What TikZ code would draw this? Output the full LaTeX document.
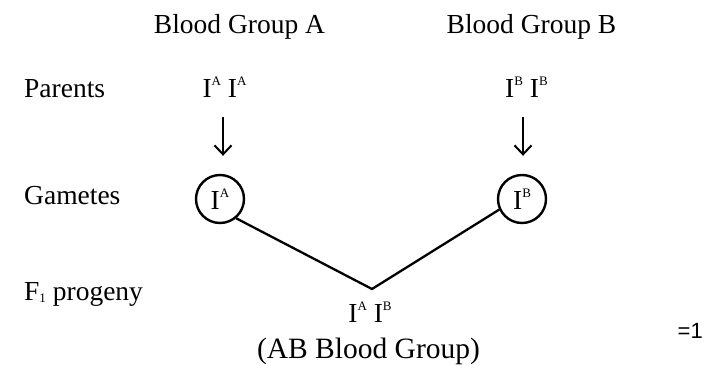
\documentclass[tikz,border=0pt]{standalone}
\usepackage{fontspec}
\setmainfont{Liberation Serif}
\setsansfont{Liberation Sans}
\usetikzlibrary{arrows.meta}
\newcommand{\gene}[1]{I\raisebox{11.5pt}{\fontsize{13}{13}\selectfont #1}}
\tikzset{
  lbl/.style={inner sep=0pt, font=\fontsize{27.5}{32}\selectfont},
  gam/.style={circle, draw, line width=2.4pt, minimum size=48pt, inner sep=0pt, font=\fontsize{27.5}{32}\selectfont},
  arr/.style={line width=2pt, -{Straight Barb[length=9pt,width=17pt,line width=2pt]}},
  link/.style={line width=2.3pt}
}
\begin{document}
\begin{tikzpicture}[x=1pt, y=-1pt]
	    \useasboundingbox (0, 0) rectangle (708, 364);
	    \node [lbl, anchor=base] (grpA) at (239.5, 33) {Blood Group A};
	    \node [lbl, anchor=base] (grpB) at (531.5, 33) {Blood Group B};
	    \node [lbl, anchor=base west] (par) at (24, 97) {Parents};
	    \node [lbl, anchor=base] (pA) at (224.5, 97) {\gene{A} \gene{A}};
	    \node [lbl, anchor=base] (pB) at (526.5, 97) {\gene{B} \gene{B}};
	    \node [lbl, anchor=base west] (gam) at (24, 204) {Gametes};
	    \node [gam] (ga) at (220, 199) {\gene{A}};
	    \node [gam] (gb) at (522, 199) {\gene{B}};
	    \node [lbl, anchor=base west] (fone) at (24, 300) {F\raisebox{-2pt}{\fontsize{13}{13}\selectfont 1} progeny};
	    \coordinate (meet) at (372, 289);
	    \node [lbl, anchor=base] (kid) at (370, 322) {\gene{A} \gene{B}};
	    \node [lbl, anchor=base, font=\fontsize{29.5}{34}\selectfont] (grpAB) at (368.5, 358) {(AB Blood Group)};
	    \node [inner sep=0pt, anchor=base east, font=\sffamily\fontsize{22}{24}\selectfont] (one) at (703, 338) {=1};
	    \draw [arr, shorten <=20pt, shorten >=18pt] (pA.south -| 223, 0) -- (ga.north -| 223, 0);
	    \draw [arr, shorten <=20pt, shorten >=18pt] (pB.south -| 523, 0) -- (gb.north -| 523, 0);
	    \draw [link] (ga.-50) -- (meet) -- (gb.205);
    \end{tikzpicture}
\end{document}
